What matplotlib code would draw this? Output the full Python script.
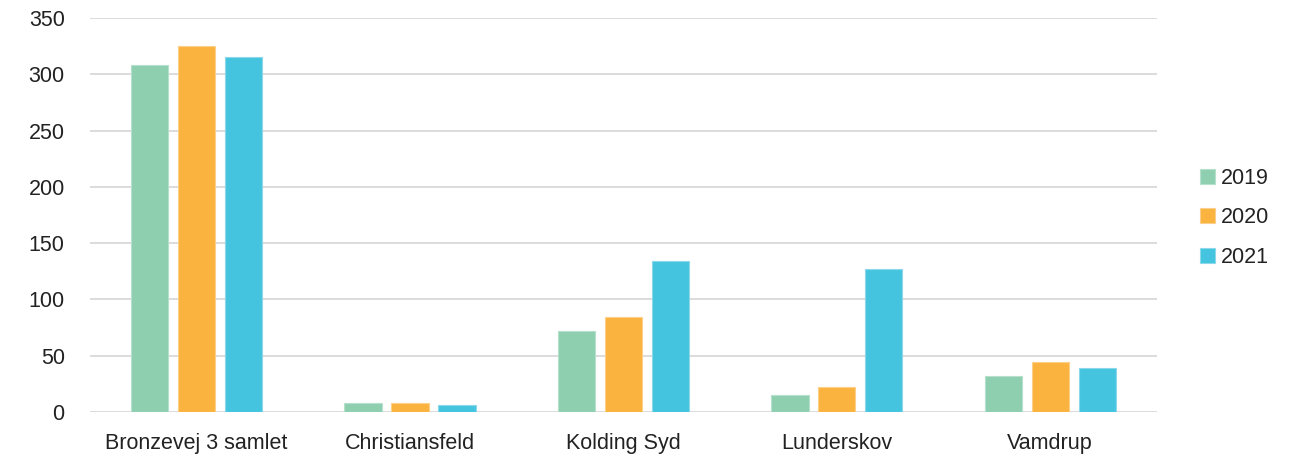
import numpy as np
import matplotlib
matplotlib.use('Agg')
import matplotlib.pyplot as plt

plt.rcParams['font.family'] = ['Liberation Sans', 'DejaVu Sans']

# data
categories = ['Bronzevej 3 samlet', 'Christiansfeld', 'Kolding Syd', 'Lunderskov', 'Vamdrup']
years = ['2019', '2020', '2021']
v2019 = [308, 8, 72, 15, 32]
v2020 = [325, 8, 84, 22, 44]
v2021 = [315, 6, 134, 127, 39]
yticks = [0, 50, 100, 150, 200, 250, 300, 350]

colors = ['#8ecfb0', '#fbb33f', '#45c4df']
edges = ['#b5e0cb', '#fdd08a', '#8ad8ea']

fig = plt.figure(figsize=(13, 4.57), dpi=100)
ax = fig.add_axes([0.069, 0.0985, 0.821, 0.8621])

x = np.arange(len(categories))
width = 0.175
offsets = [-0.22, 0, 0.22]
for vals, off, c, ec, lab in zip([v2019, v2020, v2021], offsets, colors, edges, years):
    ax.bar(x + off, vals, width, color=c, edgecolor=ec, linewidth=0.8,
           label=lab, zorder=3)

ax.set_xlim(-0.5, len(categories) - 0.5)
ax.set_ylim(0, 350)
ax.set_yticks(yticks)
ax.set_xticks(x)
ax.set_xticklabels(categories)
ax.grid(axis='y', color='#d6d6d6', linewidth=1.2, zorder=0)
for s in ax.spines.values():
    s.set_visible(False)
ax.tick_params(axis='both', length=0, labelsize=15.5, labelcolor='#222222')
ax.tick_params(axis='y', pad=18)
ax.tick_params(axis='x', pad=15)

leg = fig.legend(loc='center left', bbox_to_anchor=(0.9145, 0.523), frameon=False,
                 fontsize=15.5, handlelength=0.7, handleheight=0.7,
                 handletextpad=0.3, labelspacing=0.86, borderpad=0)
for t in leg.get_texts():
    t.set_color('#222222')

fig.savefig('out.png', dpi=100)
